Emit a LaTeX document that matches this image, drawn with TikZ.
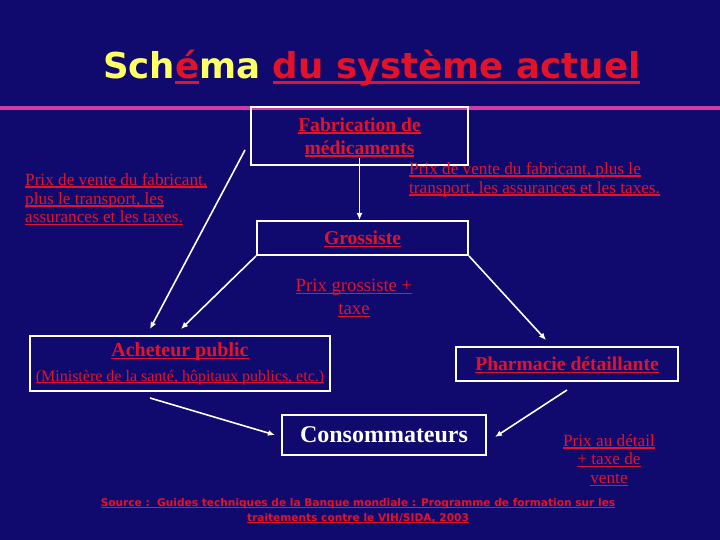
\documentclass[tikz,border=0pt]{standalone}
\usepackage{fontspec}
\setmainfont{Liberation Serif}
\newfontfamily\titrefont{DejaVu Sans}
\newfontfamily\sourcefont{DejaVu Sans}
\usetikzlibrary{arrows.meta}

\definecolor{fond}{RGB}{17,10,110}
\definecolor{rouge}{RGB}{228,18,40}
\definecolor{jaune}{RGB}{255,255,102}
\definecolor{rose}{RGB}{208,58,168}

% texte souligne
\newcommand{\sou}[1]{\setbox0\hbox{#1}\rlap{\smash{\rule[-0.14em]{\wd0}{0.075em}}}\box0}

\tikzset{
  boite/.style={draw=white, line width=2pt, inner sep=0pt, align=center},
  prix/.style={text=rouge, inner sep=0pt, font=\fontsize{17.2}{18.8}\selectfont},
  fleche/.style={draw=white, line width=1.6pt, -{Latex[length=7pt,width=6pt]}}
}

\begin{document}
\begin{tikzpicture}[x=1pt,y=-1pt]
\fill[fond] (0,0) rectangle (720,540);
\useasboundingbox (0,0) rectangle (720,540);

% titre
\node[anchor=base west, inner sep=0pt, text=rouge,
  font=\titrefont\bfseries\fontsize{35.6}{40}\selectfont] (titre) at (103,79)
  {{\color{jaune}Sch}\sou{é}{\color{jaune}ma} \sou{du système actuel}};
\fill[rose] (0,106) rectangle (720,110);

% boites
\node[boite, minimum width=217pt, minimum height=58pt, text=rouge,
  font=\bfseries\fontsize{19.6}{23}\selectfont] (fab) at (359.5,136)
  {\sou{Fabrication de}\\\sou{médicaments}};
\node[boite, minimum width=211pt, minimum height=34pt, text=rouge,
  font=\bfseries\fontsize{19.6}{23}\selectfont] (gros) at (362.5,238)
  {\sou{Grossiste}};
\node[boite, minimum width=300pt, minimum height=55pt, text=rouge,
  font=\fontsize{16}{25}\selectfont] (ach) at (180,363.5)
  {{\bfseries\fontsize{20}{23}\selectfont\sou{Acheteur public}}\\\sou{(Ministère de la santé, hôpitaux publics, etc.)}};
\node[boite, minimum width=222pt, minimum height=34pt, text=rouge,
  font=\bfseries\fontsize{19.6}{23}\selectfont] (pharm) at (567,364)
  {\sou{Pharmacie détaillante}};
\node[boite, minimum width=204pt, minimum height=40pt, text=white,
  font=\bfseries\fontsize{24}{28}\selectfont] (cons) at (384,435)
  {Consommateurs};

% prix
\node[prix, anchor=north west, align=left] (prixg) at (25,173)
  {\sou{Prix de vente du fabricant,}\\\sou{plus le transport, les}\\\sou{assurances et les taxes.}};
\node[prix, anchor=north west, align=left] (prixd) at (409,162)
  {\sou{Prix de vente du fabricant, plus le}\\\sou{transport, les assurances et les taxes.}};
\node[prix, align=center, font=\fontsize{18.7}{23}\selectfont] (prixgros) at (354,297)
  {\sou{Prix grossiste +}\\\sou{taxe}};
\node[prix, align=center] (prixdet) at (609,459)
  {\sou{Prix au détail}\\\sou{+ taxe de}\\\sou{vente}};

% fleches
\draw[fleche] ([yshift=8pt]fab.south) -- (fab.south |- gros.north);
\draw[fleche] ([xshift=-5pt,yshift=16pt]fab.south west) -- ([xshift=-30pt,yshift=6pt]ach.north);
\draw[fleche] (gros.south west) -- ([xshift=1pt,yshift=6pt]ach.north);
\draw[fleche] (gros.south east) -- ([xshift=-21pt,yshift=6pt]pharm.north);
\draw[fleche] ([xshift=-30pt,yshift=-6pt]ach.south) -- ([xshift=-6pt]cons.west);
\draw[fleche] ([yshift=-8pt]pharm.south) -- ([xshift=8pt,yshift=-2pt]cons.east);

% source
\node[text=rouge, inner sep=0pt, align=center,
  font=\sourcefont\bfseries\fontsize{10.6}{15}\selectfont] (source) at (358,511)
  {\sou{Source :\ \ Guides techniques de la Banque mondiale : Programme de formation sur les}\\\sou{traitements contre le VIH/SIDA, 2003}};
\end{tikzpicture}
\end{document}
